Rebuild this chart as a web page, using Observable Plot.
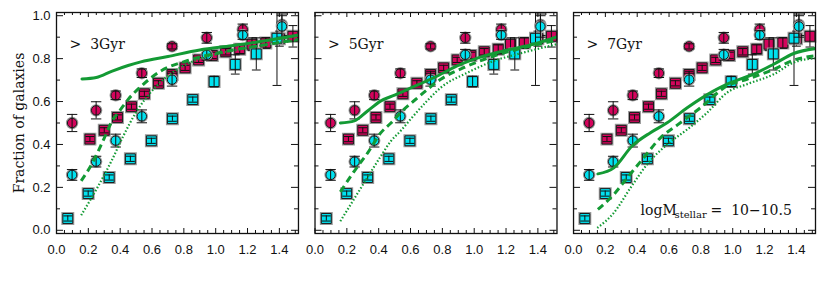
<!DOCTYPE html>
<html><head><meta charset="utf-8">
<script src="https://cdn.jsdelivr.net/npm/d3@7"></script>
<script src="https://cdn.jsdelivr.net/npm/@observablehq/plot@0.6"></script>
<style>body{margin:0;background:#fff;} svg{display:block}</style>
</head><body><div id="chart"></div>
<script>
// ---------- data ----------
const panels = ["> 3Gyr", "> 5Gyr", "> 7Gyr"];
const massLabel = ["logM", "stellar", "=  10\u221210.5"];
const yAxisTitle = "Fraction of galaxies";

const xTickLabels = [0.0, 0.2, 0.4, 0.6, 0.8, 1.0, 1.2, 1.4];
const xMinorTicks = [0.05, 0.1, 0.15, 0.25, 0.3, 0.35, 0.45, 0.5, 0.55, 0.65, 0.7, 0.75, 0.85, 0.9, 0.95, 1.05, 1.1, 1.15, 1.25, 1.3, 1.35, 1.45, 1.5];
const yTickLabels = [0.0, 0.2, 0.4, 0.6, 0.8, 1.0];
const yMinorTicks = [0.1, 0.3, 0.5, 0.7, 0.9];

// observed points (identical in every panel)
const redCircX = [0.098, 0.249, 0.372, 0.536, 0.726, 0.944, 1.17, 1.416];
const redCircY = [0.500, 0.559, 0.629, 0.732, 0.857, 0.897, 0.936, 0.958];
const redCircE = [0.040, 0.040, 0.020, 0.020, 0.012, 0.025, 0.025, 0.050];

const redSqX = [0.21, 0.30, 0.383, 0.471, 0.552, 0.640, 0.726, 0.808, 0.893, 0.979, 1.063, 1.151, 1.228, 1.315, 1.40, 1.485];
const redSqY = [0.425, 0.466, 0.526, 0.576, 0.636, 0.685, 0.726, 0.757, 0.794, 0.815, 0.832, 0.844, 0.867, 0.873, 0.893, 0.904];
const redSqE = [0.012, 0.012, 0.012, 0.012, 0.012, 0.012, 0.015, 0.012, 0.012, 0.015, 0.015, 0.020, 0.030, 0.025, 0.035, 0.050];

const cyanCircX = [0.098, 0.249, 0.372, 0.536, 0.726, 0.944, 1.17, 1.416];
const cyanCircY = [0.258, 0.320, 0.418, 0.531, 0.702, 0.818, 0.910, 0.950];
const cyanCircE = [0.025, 0.025, 0.030, 0.030, 0.030, 0.025, 0.020, 0.050];

const cyanSqX = [0.071, 0.199, 0.331, 0.464, 0.596, 0.728, 0.856, 0.990, 1.123, 1.255, 1.385];
const cyanSqY = [0.055, 0.171, 0.246, 0.333, 0.417, 0.520, 0.609, 0.693, 0.773, 0.822, 0.895];
const cyanSqE = [0.012, 0.012, 0.012, 0.012, 0.012, 0.012, 0.012, 0.025, 0.045, 0.075, 0.220];

// model curves, per panel
const solid3X = [0.16, 0.25, 0.35, 0.45, 0.53, 0.70, 0.90, 1.10, 1.30, 1.52];
const solid3Y = [0.705, 0.712, 0.742, 0.768, 0.785, 0.810, 0.840, 0.860, 0.882, 0.910];
const dash3X = [0.155, 0.23, 0.30, 0.35, 0.40, 0.45, 0.53, 0.65, 0.82, 1.07, 1.36, 1.52];
const dash3Y = [0.23, 0.32, 0.43, 0.51, 0.56, 0.61, 0.67, 0.74, 0.79, 0.835, 0.87, 0.89];
const dot3X = [0.155, 0.25, 0.35, 0.42, 0.50, 0.60, 0.70, 0.85, 1.00, 1.20, 1.40, 1.52];
const dot3Y = [0.07, 0.19, 0.33, 0.44, 0.55, 0.65, 0.72, 0.785, 0.82, 0.85, 0.875, 0.885];

const solid5X = [0.159, 0.247, 0.33, 0.414, 0.50, 0.582, 0.749, 0.917, 1.063, 1.21, 1.377, 1.524];
const solid5Y = [0.500, 0.510, 0.556, 0.603, 0.630, 0.657, 0.712, 0.774, 0.813, 0.840, 0.868, 0.902];
const dash5X = [0.159, 0.247, 0.331, 0.414, 0.477, 0.54, 0.645, 0.79, 0.959, 1.126, 1.272, 1.524];
const dash5Y = [0.179, 0.276, 0.361, 0.455, 0.500, 0.550, 0.618, 0.704, 0.766, 0.813, 0.844, 0.886];
const dot5X = [0.159, 0.289, 0.414, 0.477, 0.54, 0.603, 0.70, 0.79, 0.959, 1.126, 1.272, 1.524];
const dot5Y = [0.042, 0.198, 0.346, 0.416, 0.465, 0.520, 0.600, 0.665, 0.735, 0.790, 0.821, 0.868];

const solid7X = [0.153, 0.253, 0.368, 0.483, 0.588, 0.714, 0.881, 0.965, 1.153, 1.257, 1.383, 1.52];
const solid7Y = [0.263, 0.291, 0.393, 0.455, 0.501, 0.571, 0.650, 0.681, 0.735, 0.774, 0.824, 0.847];
const dash7X = [0.153, 0.253, 0.337, 0.441, 0.546, 0.651, 0.797, 0.965, 1.09, 1.257, 1.383, 1.52];
const dash7Y = [0.097, 0.167, 0.244, 0.338, 0.431, 0.490, 0.571, 0.673, 0.704, 0.750, 0.793, 0.813];
const dot7X = [0.149, 0.253, 0.358, 0.462, 0.588, 0.714, 0.839, 0.965, 1.09, 1.257, 1.383, 1.52];
const dot7Y = [0.011, 0.081, 0.198, 0.307, 0.400, 0.470, 0.548, 0.642, 0.681, 0.727, 0.782, 0.802];

// ---------- build tables ----------
const pts = (xs, ys, es) => xs.map((x, i) => ({x, y: ys[i], e: es[i]}));
const redCirc = pts(redCircX, redCircY, redCircE);
const redSq = pts(redSqX, redSqY, redSqE);
const cyanCirc = pts(cyanCircX, cyanCircY, cyanCircE);
const cyanSq = pts(cyanSqX, cyanSqY, cyanSqE);

const curve = (panel, xs, ys) => xs.map((x, i) => ({panel, x, y: ys[i]}));
const solidRows = [...curve(panels[0], solid3X, solid3Y), ...curve(panels[1], solid5X, solid5Y), ...curve(panels[2], solid7X, solid7Y)];
const dashRows = [...curve(panels[0], dash3X, dash3Y), ...curve(panels[1], dash5X, dash5Y), ...curve(panels[2], dash7X, dash7Y)];
const dotRows = [...curve(panels[0], dot3X, dot3Y), ...curve(panels[1], dot5X, dot5Y), ...curve(panels[2], dot7X, dot7Y)];

// ---------- layout / style ----------
const W = 830, H = 285, mL = 56, mR = 15, mT = 12, mB = 52;
const padIn = 0.064;
const bw = (W - mL - mR) * (1 - padIn) / (3 - padIn);
const ih = H - mT - mB;
const green = "#139a34", crimson = "#d4045c", cyan = "#00e2f0";
const serif = "DejaVu Serif";

const capWide = {draw(c) { c.moveTo(-5.2, 0); c.lineTo(5.2, 0); }};
const capNarrow = {draw(c) { c.moveTo(-4.4, 0); c.lineTo(4.4, 0); }};

function series(rows, symbol, r, fill, cap) {
  return [
    Plot.dot(rows, {x: "x", y: "y", symbol, r, fill, stroke: "#9a9a9a", strokeWidth: 3}),
    Plot.dot(rows, {x: "x", y: "y", symbol, r, fill, stroke: "#1a1a1a", strokeWidth: 1}),
    Plot.ruleX(rows, {x: "x", y1: d => d.y - d.e, y2: d => d.y + d.e, stroke: "#111", strokeWidth: 1, clip: true}),
    Plot.dot(rows, {x: "x", y: d => d.y + d.e, symbol: cap, fill: "none", stroke: "#111", strokeWidth: 1, clip: true}),
    Plot.dot(rows, {x: "x", y: d => d.y - d.e, symbol: cap, fill: "none", stroke: "#111", strokeWidth: 1, clip: true})
  ];
}

const tk = {stroke: "#111", strokeWidth: 1};

const chart = Plot.plot({
  width: W, height: H,
  marginLeft: mL, marginRight: mR, marginTop: mT, marginBottom: mB,
  style: {fontFamily: "Liberation Sans", background: "#fff", color: "#111"},
  fx: {domain: panels, axis: null, paddingInner: padIn, paddingOuter: 0, round: false},
  x: {domain: [0, 1.52], axis: null},
  y: {domain: [-0.015, 1.015], axis: null},
  marks: [
    // inward ticks on all four sides
    Plot.tickX(xTickLabels, {x: d => d, insetTop: ih - 5, ...tk}),
    Plot.tickX(xMinorTicks, {x: d => d, insetTop: ih - 3, ...tk}),
    Plot.tickX(xTickLabels, {x: d => d, insetBottom: ih - 5, ...tk}),
    Plot.tickX(xMinorTicks, {x: d => d, insetBottom: ih - 3, ...tk}),
    Plot.tickY(yTickLabels, {y: d => d, insetRight: bw - 7, ...tk}),
    Plot.tickY(yMinorTicks, {y: d => d, insetRight: bw - 4, ...tk}),
    Plot.tickY(yTickLabels, {y: d => d, insetLeft: bw - 7, ...tk}),
    Plot.tickY(yMinorTicks, {y: d => d, insetLeft: bw - 4, ...tk}),
    Plot.axisX({ticks: xTickLabels, tickSize: 0, tickPadding: 11, tickFormat: d3.format(".1f"), fontSize: 13, label: null}),
    Plot.axisY({ticks: yTickLabels, tickSize: 0, tickPadding: 6, tickFormat: d3.format(".1f"), fontSize: 13, label: null}),
    Plot.axisY({ticks: [], tickSize: 0, label: yAxisTitle, labelAnchor: "center", labelOffset: 42, labelArrow: "none", fontSize: 14, fontFamily: serif}),

    ...series(redSq, "square", 5.6, crimson, capNarrow),
    ...series(redCirc, "circle", 4.7, crimson, capWide),
    ...series(cyanSq, "square", 5.6, cyan, capNarrow),
    ...series(cyanCirc, "circle", 4.7, cyan, capWide),

    Plot.line(dotRows, {fx: "panel", x: "x", y: "y", stroke: green, strokeWidth: 2.2, strokeDasharray: "1.5,2", strokeLinecap: "butt", curve: "monotone-x", clip: true}),
    Plot.line(dashRows, {fx: "panel", x: "x", y: "y", stroke: green, strokeWidth: 3, strokeDasharray: "7,4.5", strokeLinecap: "butt", curve: "monotone-x", clip: true}),
    Plot.line(solidRows, {fx: "panel", x: "x", y: "y", stroke: green, strokeWidth: 3, curve: "monotone-x", clip: true}),

    Plot.text(panels, {fx: d => d, text: d => d.replace(" ", "\u00a0\u00a0"), frameAnchor: "top-left", dx: 13, dy: 36, lineAnchor: "bottom", textAnchor: "start", fontSize: 14, fontFamily: serif, fill: "#111"}),
    Plot.text([massLabel[0]], {fx: () => panels[2], text: d => d, frameAnchor: "bottom-left", dx: 67, dy: -19, lineAnchor: "bottom", textAnchor: "start", fontSize: 14, fontFamily: serif, fill: "#111"}),
    Plot.text([massLabel[1]], {fx: () => panels[2], text: d => d, frameAnchor: "bottom-left", dx: 101, dy: -16, lineAnchor: "bottom", textAnchor: "start", fontSize: 10, fontFamily: serif, fill: "#111"}),
    Plot.text([massLabel[2]], {fx: () => panels[2], text: d => d, frameAnchor: "bottom-left", dx: 137, dy: -19, lineAnchor: "bottom", textAnchor: "start", fontSize: 14, fontFamily: serif, fill: "#111"}),

    Plot.frame({stroke: "#111", strokeWidth: 1.3})
  ]
});
document.getElementById("chart").appendChild(chart);
</script>
</body></html>
